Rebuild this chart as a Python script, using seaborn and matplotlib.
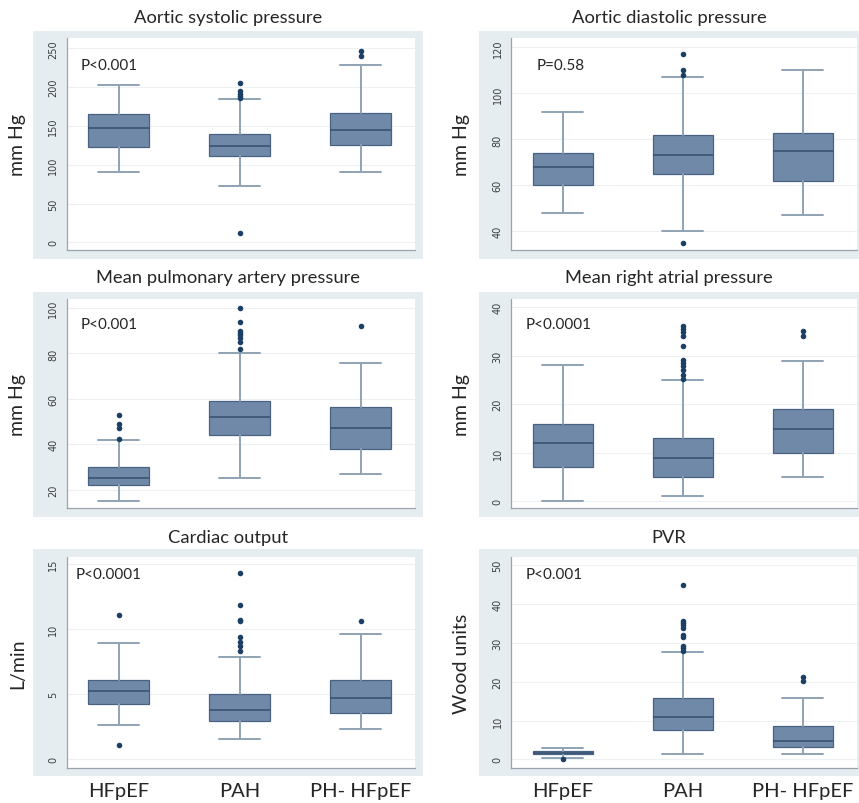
import seaborn as sns
import matplotlib.pyplot as plt
import pandas as pd

groups = ["HFpEF", "PAH", "PH- HFpEF"]

# Aortic systolic pressure
sys_lo = [91, 72, 91]
sys_q1 = [123, 111, 126]
sys_med = [147, 124, 145]
sys_q3 = [166, 140, 167]
sys_hi = [203, 185, 228]
sys_out = [[], [206, 195, 191, 188, 186, 12], [247, 240]]

# Aortic diastolic pressure
dia_lo = [48, 40, 47]
dia_q1 = [60, 65, 62]
dia_med = [68, 73, 75]
dia_q3 = [74, 82, 83]
dia_hi = [92, 107, 110]
dia_out = [[], [117, 110, 108, 35], []]

# Mean pulmonary artery pressure
mpa_lo = [15, 25, 27]
mpa_q1 = [22, 44, 38]
mpa_med = [25, 52, 47]
mpa_q3 = [30, 59, 56.5]
mpa_hi = [42, 80, 76]
mpa_out = [[53, 49, 47, 42.3], [100, 94, 90, 89, 88, 87, 85, 82], [92]]

# Mean right atrial pressure
ra_lo = [0, 1, 5]
ra_q1 = [7, 5, 10]
ra_med = [12, 9, 15]
ra_q3 = [16, 13, 19]
ra_hi = [28, 25, 29]
ra_out = [[], [36.2, 35.6, 34.8, 34, 32, 29.2, 28.5, 27.8, 27, 26.1, 25.2], [35.1, 34.1]]

# Cardiac output
co_lo = [2.6, 1.5, 2.3]
co_q1 = [4.2, 2.95, 3.5]
co_med = [5.2, 3.8, 4.7]
co_q3 = [6.1, 5.0, 6.1]
co_hi = [8.9, 7.8, 9.6]
co_out = [[11.1, 1.1], [14.3, 11.8, 10.7, 10.6, 9.4, 9.0, 8.7, 8.3], [10.6]]

# PVR
pvr_lo = [0.35, 1.5, 1.4]
pvr_q1 = [1.4, 7.5, 3.1]
pvr_med = [1.7, 11.0, 4.8]
pvr_q3 = [2.1, 15.8, 8.5]
pvr_hi = [2.8, 27.6, 15.7]
pvr_out = [[0.05], [44.9, 35.7, 35.1, 34.5, 33.7, 31.9, 31.4, 29.1, 28.6, 28.0], [21.3, 20.2]]

titles = ["Aortic systolic pressure", "Aortic diastolic pressure",
          "Mean pulmonary artery pressure", "Mean right atrial pressure",
          "Cardiac output", "PVR"]
ylabels = ["mm Hg", "mm Hg", "mm Hg", "mm Hg", "L/min", "Wood units"]
pvalues = ["P<0.001", "P=0.58", "P<0.001", "P<0.0001", "P<0.0001", "P<0.001"]

sns.set_style("white")
plt.rcParams['font.family'] = ['Lato', 'DejaVu Sans']

BAND = '#e5edf1'
FILL = '#7189a8'
EDGE = '#4a6282'
MED = '#3a5272'
WHISK = '#8fa3b6'
DOT = '#1c3f66'

W, H = 859, 804


def rect(x0, y0, x1, y1):
    return [x0 / W, 1 - y1 / H, (x1 - x0) / W, (y1 - y0) / H]


def make_stats(lo, q1, med, q3, hi):
    return [dict(whislo=a, q1=b, med=c, q3=d, whishi=e, fliers=[])
            for a, b, c, d, e in zip(lo, q1, med, q3, hi)]


panels = [
    (make_stats(sys_lo, sys_q1, sys_med, sys_q3, sys_hi), sys_out, (-9.5, 263), range(0, 251, 50), (0.041, 0.874)),
    (make_stats(dia_lo, dia_q1, dia_med, dia_q3, dia_hi), dia_out, (32, 124), range(40, 121, 20), (0.074, 0.874)),
    (make_stats(mpa_lo, mpa_q1, mpa_med, mpa_q3, mpa_hi), mpa_out, (11.8, 104), range(20, 101, 20), (0.041, 0.881)),
    (make_stats(ra_lo, ra_q1, ra_med, ra_q3, ra_hi), ra_out, (-1.45, 41.7), range(0, 41, 10), (0.043, 0.881)),
    (make_stats(co_lo, co_q1, co_med, co_q3, co_hi), co_out, (-0.72, 15.5), range(0, 16, 5), (0.027, 0.921)),
    (make_stats(pvr_lo, pvr_q1, pvr_med, pvr_q3, pvr_hi), pvr_out, (-2.3, 52), range(0, 51, 10), (0.043, 0.921)),
]

# pixel layout: band x0, band x1, inner x0, inner x1, ylabel x
cols = [(33, 423, 66.7, 415, 18), (479.3, 859, 511, 856.7, 461.7)]
# band y0, band y1, inner y0, inner y1, title y
rows = [(32, 260, 39.3, 250.7, 18), (293.3, 518.3, 300, 509.3, 278), (550, 777.3, 558.3, 769.3, 537.7)]

fig = plt.figure(figsize=(8.59, 8.04), dpi=100)

for k, (stats, outs, ylim, yticks, pxy) in enumerate(panels):
    r, c = divmod(k, 2)
    bx0, bx1, ix0, ix1, ylx = cols[c]
    by0, by1, iy0, iy1, ty = rows[r]

    band = fig.add_axes(rect(bx0, by0, bx1, by1))
    band.set_facecolor(BAND)
    band.set_xticks([])
    band.set_yticks([])
    for s in band.spines.values():
        s.set_visible(False)

    ax = fig.add_axes(rect(ix0, iy0, ix1, iy1))
    ax.set_facecolor('white')
    ax.bxp(stats, positions=[0, 1, 2], widths=0.5, capwidths=0.34,
           patch_artist=True, showfliers=False, manage_ticks=False,
           boxprops=dict(facecolor=FILL, edgecolor=EDGE, linewidth=0.9),
           medianprops=dict(color=MED, linewidth=1.2),
           whiskerprops=dict(color=WHISK, linewidth=1.4),
           capprops=dict(color=WHISK, linewidth=1.4))

    xs, ys = [], []
    for i, vals in enumerate(outs):
        xs += [i] * len(vals)
        ys += list(vals)
    if ys:
        df = pd.DataFrame({'x': xs, 'y': ys})
        sns.scatterplot(data=df, x='x', y='y', ax=ax, color=DOT, s=16,
                        linewidth=0, legend=False, zorder=3)

    ax.set_xlim(-0.43, 2.45)
    ax.set_ylim(*ylim)
    ax.set_yticks(list(yticks))
    ax.yaxis.grid(True, color='#edf1f4', linewidth=0.8)
    ax.set_axisbelow(True)
    ax.set_xlabel('')
    ax.set_ylabel('')
    for side in ['top', 'right']:
        ax.spines[side].set_visible(False)
    for side in ['left', 'bottom']:
        ax.spines[side].set_color('#9aa4ad')
        ax.spines[side].set_linewidth(0.9)
    ax.tick_params(axis='y', length=4, width=0.8, color='#9aa4ad',
                   labelsize=7, labelcolor='#3d3d3d', pad=2, labelrotation=90)
    for lab in ax.get_yticklabels():
        lab.set_va('center')
        lab.set_family('DejaVu Sans')

    if r == 2:
        ax.set_xticks([0, 1, 2])
        ax.set_xticklabels(groups, fontsize=14.5)
        ax.tick_params(axis='x', length=0, pad=10)
    else:
        ax.set_xticks([])

    ax.text(pxy[0], pxy[1], pvalues[k], transform=ax.transAxes,
            fontsize=11, ha='left', va='center')

    fig.text((bx0 + bx1) / 2 / W, 1 - ty / H, titles[k], fontsize=13.2,
             ha='center', va='center')
    fig.text(ylx / W, 1 - (iy0 + iy1) / 2 / H, ylabels[k], fontsize=14,
             rotation=90, ha='center', va='center')

fig.savefig('out.png', dpi=100)
